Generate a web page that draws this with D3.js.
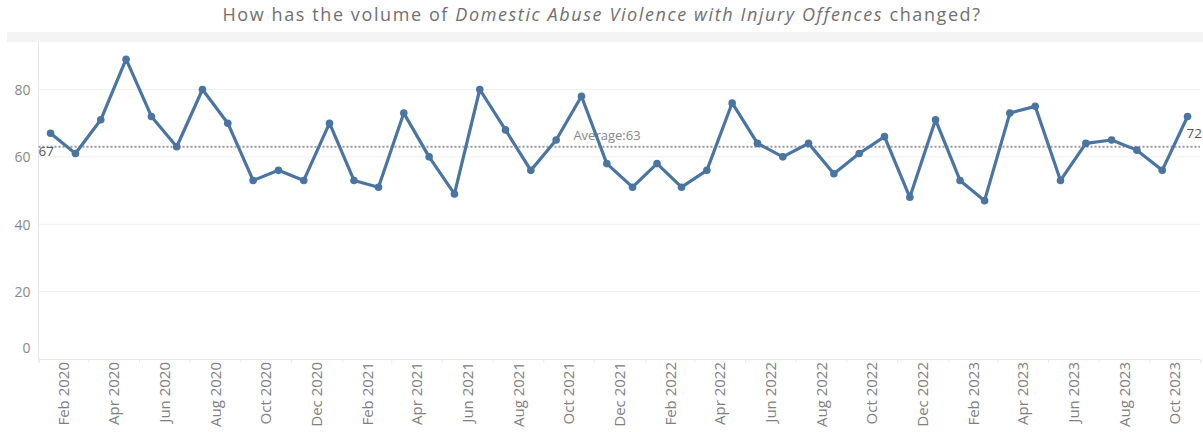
<!DOCTYPE html>
<html>
<head>
<meta charset="utf-8">
<script src="https://cdn.jsdelivr.net/npm/d3@7"></script>
<style>
  body { margin: 0; background: #fff; }
  text { font-family: "Open Sans", "Noto Sans", sans-serif; }
</style>
</head>
<body>
<div id="chart"></div>
<script>
// monthly counts, Feb 2020 - Nov 2023
var months = [
  "2020-02", "2020-03", "2020-04", "2020-05", "2020-06", "2020-07", "2020-08", "2020-09", "2020-10", "2020-11", "2020-12",
  "2021-01", "2021-02", "2021-03", "2021-04", "2021-05", "2021-06", "2021-07", "2021-08", "2021-09", "2021-10", "2021-11", "2021-12",
  "2022-01", "2022-02", "2022-03", "2022-04", "2022-05", "2022-06", "2022-07", "2022-08", "2022-09", "2022-10", "2022-11", "2022-12",
  "2023-01", "2023-02", "2023-03", "2023-04", "2023-05", "2023-06", "2023-07", "2023-08", "2023-09", "2023-10", "2023-11"
];
var offences = [
  67, 61, 71, 89, 72, 63, 80, 70, 53, 56, 53,
  70, 53, 51, 73, 60, 49, 80, 68, 56, 65, 78, 58,
  51, 58, 51, 56, 76, 64, 60, 64, 55, 61, 66, 48,
  71, 53, 47, 73, 75, 53, 64, 65, 62, 56, 72
];
var xTickMonths = [
  "2020-02", "2020-04", "2020-06", "2020-08", "2020-10", "2020-12",
  "2021-02", "2021-04", "2021-06", "2021-08", "2021-10", "2021-12",
  "2022-02", "2022-04", "2022-06", "2022-08", "2022-10", "2022-12",
  "2023-02", "2023-04", "2023-06", "2023-08", "2023-10"
];
var yTicks = [0, 20, 40, 60, 80];

var parseMonth = d3.timeParse("%Y-%m");
var fmt = d3.timeFormat("%b %Y");

var data = months.map(function(m, i) {
  return { date: parseMonth(m), value: offences[i] };
});
var avg = Math.round(d3.mean(offences));

var width = 1203, height = 432;
var margin = { top: 42, right: 3, bottom: 73, left: 38.5 };

var svg = d3.select("#chart").append("svg")
  .attr("width", width)
  .attr("height", height);

// title
var title = svg.append("text")
  .attr("x", 602)
  .attr("y", 21)
  .attr("text-anchor", "middle")
  .attr("fill", "#707070")
  .style("font-size", "18px")
  .style("letter-spacing", "1.6px");
title.append("tspan").text("How has the volume of ");
title.append("tspan").style("font-style", "italic").text("Domestic Abuse Violence with Injury Offences");
title.append("tspan").text(" changed?");

// grey header band
svg.append("rect")
  .attr("x", 7).attr("y", 32)
  .attr("width", width - 7).attr("height", 10)
  .attr("fill", "#f4f4f4");

var x = d3.scaleTime()
  .domain([data[0].date, d3.timeMonth.offset(data[data.length - 1].date, 1)])
  .range([margin.left, width - margin.right]);

var y = d3.scaleLinear()
  .domain([0, 94.1])
  .range([height - margin.bottom, margin.top]);

function midX(d) {
  return (x(d) + x(d3.timeMonth.offset(d, 1))) / 2;
}

// gridlines
svg.append("g")
  .selectAll("line")
  .data(yTicks.filter(function(t) { return t > 0; }))
  .enter().append("line")
  .attr("x1", margin.left).attr("x2", width - margin.right)
  .attr("y1", function(d) { return y(d); })
  .attr("y2", function(d) { return y(d); })
  .attr("stroke", "#efefef")
  .attr("stroke-width", 1);

// left pane border
svg.append("line")
  .attr("x1", margin.left).attr("x2", margin.left)
  .attr("y1", margin.top).attr("y2", y(0))
  .attr("stroke", "#e8e8e8");

// y axis
var yAxis = svg.append("g")
  .attr("transform", "translate(" + (margin.left - 8) + ",0)")
  .call(d3.axisLeft(y).tickValues(yTicks).tickSize(0).tickPadding(0));
yAxis.select(".domain").remove();
yAxis.selectAll("text")
  .attr("fill", "#888")
  .style("font-size", "14px")
  .attr("dy", function(d) { return d === 0 ? "-0.45em" : "0.35em"; });

// x axis
var xAxis = svg.append("g")
  .attr("transform", "translate(0," + y(0) + ")")
  .call(d3.axisBottom(x)
    .tickValues(xTickMonths.map(parseMonth))
    .tickSize(4)
    .tickFormat(fmt));
xAxis.select(".domain").attr("stroke", "#e8e8e8");
xAxis.selectAll(".tick line").attr("stroke", "#ececec");
xAxis.selectAll(".tick text")
  .attr("fill", "#808080")
  .style("font-size", "15px")
  .attr("text-anchor", "end")
  .attr("transform", function(d) {
    var half = (x(d3.timeMonth.offset(d, 2)) - x(d)) / 2;
    return "translate(" + half + ",0) rotate(-90)";
  })
  .attr("x", -3)
  .attr("y", 0)
  .attr("dy", "0.35em");

// average reference line
svg.append("line")
  .attr("x1", margin.left).attr("x2", width - margin.right)
  .attr("y1", y(avg)).attr("y2", y(avg))
  .attr("stroke", "#999")
  .attr("stroke-width", 2)
  .attr("stroke-dasharray", "2,2");

svg.append("text")
  .attr("x", 607)
  .attr("y", y(avg) - 7)
  .attr("text-anchor", "middle")
  .attr("fill", "#888")
  .style("font-size", "13px")
  .text("Average:" + avg);

// line
var line = d3.line()
  .x(function(d) { return midX(d.date); })
  .y(function(d) { return y(d.value); });

svg.append("path")
  .datum(data)
  .attr("fill", "none")
  .attr("stroke", "#4a75a1")
  .attr("stroke-width", 3.2)
  .attr("stroke-linejoin", "round")
  .attr("d", line);

svg.append("g")
  .selectAll("circle")
  .data(data)
  .enter().append("circle")
  .attr("cx", function(d) { return midX(d.date); })
  .attr("cy", function(d) { return y(d.value); })
  .attr("r", 3.8)
  .attr("fill", "#4a75a1");

// first / last labels
var first = data[0], last = data[data.length - 1];
svg.append("text")
  .attr("x", midX(first.date) - 12)
  .attr("y", y(first.value) + 23)
  .attr("fill", "#555")
  .style("font-size", "13.5px")
  .text(first.value);

svg.append("text")
  .attr("x", width - 1)
  .attr("y", y(last.value) + 22)
  .attr("text-anchor", "end")
  .attr("fill", "#555")
  .style("font-size", "13.5px")
  .text(last.value);
</script>
</body>
</html>
